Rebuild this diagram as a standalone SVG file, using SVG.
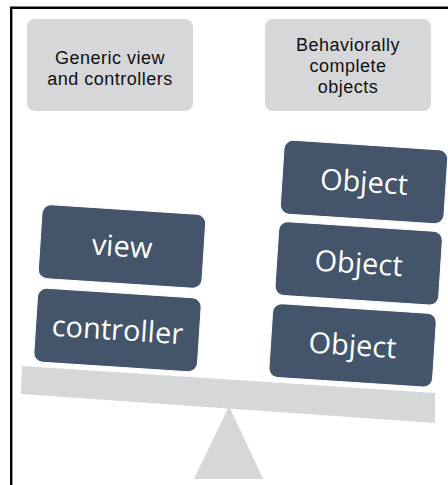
<svg xmlns="http://www.w3.org/2000/svg" width="448" height="485" viewBox="0 0 448 485">
<style>
.label{fill:#D6D7D9}
.lt{font-family:"Liberation Sans",Arial,sans-serif;font-size:18px;letter-spacing:0.5px;fill:#111;text-anchor:middle}
.blk{fill:#44546A;stroke:#ffffff;stroke-width:1}
.bt{font-family:"Open Sans","Liberation Sans",sans-serif;font-size:29px;fill:#ffffff;text-anchor:middle}
.gray{fill:#D6D7D9}
</style>
<rect x="0" y="0" width="448" height="485" fill="#ffffff"/>
<g id="frame">
<line x1="10" y1="7.8" x2="448" y2="7.8" stroke="#000" stroke-width="2.4"/>
<line x1="11.2" y1="7" x2="11.2" y2="485" stroke="#000" stroke-width="2.4"/>
</g>
<g id="label-generic">
<rect class="label" x="27" y="19" width="166" height="92" rx="8"/>
<text class="lt" x="110" y="64">Generic view</text>
<text class="lt" x="110" y="84.5">and controllers</text>
</g>
<g id="label-objects">
<rect class="label" x="265" y="19" width="166" height="92" rx="8"/>
<text class="lt" x="348" y="51">Behaviorally</text>
<text class="lt" x="348" y="72">complete</text>
<text class="lt" x="348" y="93">objects</text>
</g>
<g id="fulcrum">
<polygon class="gray" points="229,406 263,479 194,479"/>
</g>
<g id="beam">
<polygon class="gray" points="22,366 435,393 435,423 21,394"/>
</g>
<g id="view" transform="translate(122,246.5) rotate(3.7)">
<rect class="blk" x="-82" y="-37" width="164" height="74" rx="9"/>
<text class="bt" x="0" y="10">view</text>
</g>
<g id="controller" transform="translate(117.5,330) rotate(3.7)">
<rect class="blk" x="-82" y="-37" width="164" height="74" rx="9"/>
<text class="bt" x="0" y="10">controller</text>
</g>
<g id="object1" transform="translate(364,182) rotate(3.7)">
<rect class="blk" x="-82" y="-37" width="164" height="74" rx="9"/>
<text class="bt" x="0" y="10">Object</text>
</g>
<g id="object2" transform="translate(358.7,263.4) rotate(3.7)">
<rect class="blk" x="-82" y="-37" width="164" height="74" rx="9"/>
<text class="bt" x="0" y="10">Object</text>
</g>
<g id="object3" transform="translate(352.6,345.4) rotate(3.7)">
<rect class="blk" x="-82" y="-37" width="164" height="74" rx="9"/>
<text class="bt" x="0" y="10">Object</text>
</g>
<g id="connectors"></g>
</svg>
